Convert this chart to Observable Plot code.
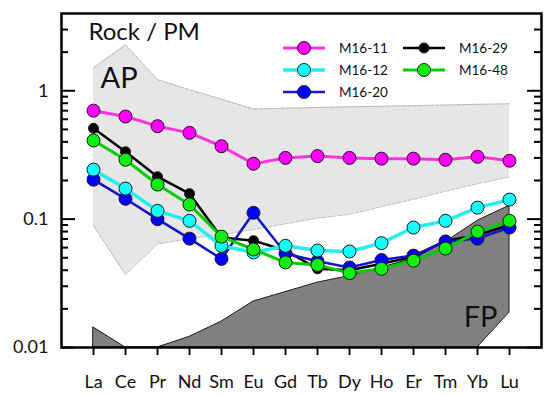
<!DOCTYPE html>
<html>
<head>
<meta charset="utf-8">
<script src="https://cdn.jsdelivr.net/npm/d3@7"></script>
<script src="https://cdn.jsdelivr.net/npm/@observablehq/plot@0.6"></script>
<style>
  html, body { margin: 0; padding: 0; background: #fff; }
  #wrap { position: relative; width: 550px; height: 395px; font-family: Lato, "Open Sans", sans-serif; }
  #legend { position: absolute; left: 283px; top: 37px; display: grid; grid-template-rows: repeat(3, 22px); grid-auto-flow: column; grid-auto-columns: 120px; }
  .item { display: flex; align-items: center; font-size: 13.5px; color: #111; }
  .item svg { margin-right: 14px; flex: none; }
</style>
</head>
<body>
<div id="wrap"><div id="legend"></div></div>
<script>
// Rare earth elements (x categories)
const elements = ["La","Ce","Pr","Nd","Sm","Eu","Gd","Tb","Dy","Ho","Er","Tm","Yb","Lu"];

// Sample series (Rock / primitive mantle)
const m1611 = [0.70,0.63,0.53,0.47,0.37,0.27,0.30,0.31,0.30,0.296,0.296,0.29,0.306,0.285];
const m1612 = [0.243,0.173,0.116,0.097,0.062,0.055,0.062,0.057,0.056,0.065,0.086,0.097,0.123,0.142];
const m1620 = [0.203,0.144,0.100,0.0705,0.049,0.112,0.054,0.047,0.042,0.048,0.052,0.067,0.0705,0.086];
const m1629 = [0.51,0.335,0.214,0.158,0.072,0.068,0.057,0.041,0.040,0.045,0.051,0.068,0.075,0.090];
const m1648 = [0.41,0.29,0.186,0.13,0.073,0.058,0.046,0.044,0.038,0.041,0.0475,0.059,0.080,0.097];

// Field envelopes
const apUpper = [1.51,2.28,1.22,1.02,0.86,0.72,0.732,0.74,0.75,0.758,0.766,0.774,0.784,0.792];
const apLower = [0.089,0.037,0.064,0.0705,0.076,0.083,0.092,0.102,0.109,0.125,0.143,0.165,0.189,0.214];
const fpUpper = [0.0143,0.01,0.01,0.0121,0.0159,0.0228,0.027,0.032,0.036,0.042,0.049,0.066,0.097,0.127];
const fpLower = [0.01,0.01,0.01,0.01,0.01,0.01,0.01,0.01,0.01,0.01,0.01,0.01,0.01,0.0187];

// Axis tick values
const majorTicks = [0.01, 0.1, 1];
const minorTicks = [0.02,0.03,0.04,0.05,0.06,0.07,0.08,0.09,0.2,0.3,0.4,0.5,0.6,0.7,0.8,0.9,2,3];

// Series styling (draw order bottom to top)
const series = [
  {name: "M16-29", values: m1629, line: "#000000", fill: "#000000", r: 5,   w: 2.5},
  {name: "M16-20", values: m1620, line: "#1414c8", fill: "#0000ff", r: 6.5, w: 2.5},
  {name: "M16-12", values: m1612, line: "#22eeee", fill: "#11ffff", r: 6.5, w: 3.5},
  {name: "M16-48", values: m1648, line: "#00cc00", fill: "#11ee11", r: 6.5, w: 3},
  {name: "M16-11", values: m1611, line: "#ff33dd", fill: "#ff00ff", r: 6.5, w: 3}
];
const legendOrder = ["M16-11","M16-12","M16-20","M16-29","M16-48"];

const W = 550, H = 395, ML = 61, MR = 9, MT = 13, MB = 48;
const frameW = W - ML - MR;

const apRows = elements.map((e, i) => ({el: e, lo: apLower[i], hi: apUpper[i]}));
const fpRows = elements.map((e, i) => ({el: e, lo: fpLower[i], hi: fpUpper[i]}));

const seriesMarks = series.flatMap(s => {
  const rows = elements.map((e, i) => ({el: e, v: s.values[i]}));
  return [
    Plot.line(rows, {x: "el", y: "v", stroke: s.line, strokeWidth: s.w}),
    Plot.dot(rows, {x: "el", y: "v", r: s.r, fill: s.fill, stroke: "#1a1a1a", strokeWidth: 1})
  ];
});

const chart = Plot.plot({
  width: W, height: H,
  marginLeft: ML, marginRight: MR, marginTop: MT, marginBottom: MB,
  style: {fontFamily: "Lato, 'Open Sans', sans-serif", fontSize: "18px", background: "white", color: "#111"},
  x: {type: "point", domain: elements, padding: 1, label: null},
  y: {type: "log", domain: [0.01, 4], label: null},
  marks: [
    Plot.areaY(apRows, {x: "el", y1: "lo", y2: "hi", fill: "#e6e6e6"}),
    Plot.line(apRows, {x: "el", y: "hi", stroke: "#a8a8a8", strokeWidth: 0.8, strokeDasharray: "4,1.5"}),
    Plot.line(apRows, {x: "el", y: "lo", stroke: "#a8a8a8", strokeWidth: 0.8, strokeDasharray: "4,1.5"}),
    Plot.areaY(fpRows, {x: "el", y1: "lo", y2: "hi", fill: "#808080", stroke: "#1a1a1a", strokeWidth: 1}),
    ...seriesMarks,
    Plot.tickY(majorTicks, {y: d => d, insetRight: frameW - 14, stroke: "black", strokeWidth: 2}),
    Plot.tickY(minorTicks, {y: d => d, insetRight: frameW - 7, stroke: "black", strokeWidth: 2}),
    Plot.tickY(majorTicks, {y: d => d, insetLeft: frameW - 14, stroke: "black", strokeWidth: 2}),
    Plot.tickY(minorTicks, {y: d => d, insetLeft: frameW - 7, stroke: "black", strokeWidth: 2}),
    Plot.axisY({ticks: majorTicks, tickSize: 0, tickPadding: 13, tickFormat: d => String(d), fontSize: 18, label: null}),
    Plot.axisX({tickSize: 8, tickPadding: 20, strokeWidth: 2, fontSize: 18, label: null}),
    Plot.frame({stroke: "black", strokeWidth: 2.5}),
    Plot.text(["Rock / PM"], {frameAnchor: "top-left", dx: 27, dy: 19, textAnchor: "start", lineAnchor: "middle", fontSize: 24, fill: "#111"}),
    Plot.text(["AP"], {frameAnchor: "top-left", dx: 39, dy: 65, textAnchor: "start", lineAnchor: "middle", fontSize: 29, fill: "#111"}),
    Plot.text(["FP"], {frameAnchor: "bottom-right", dx: -44, dy: -30, textAnchor: "end", lineAnchor: "middle", fontSize: 29, fill: "#111"})
  ]
});
document.getElementById("wrap").prepend(chart);

// Legend
const legend = document.getElementById("legend");
for (const name of legendOrder) {
  const s = series.find(d => d.name === name);
  const item = document.createElement("div");
  item.className = "item";
  const ns = "http://www.w3.org/2000/svg";
  const svg = document.createElementNS(ns, "svg");
  svg.setAttribute("width", 42); svg.setAttribute("height", 22);
  const ln = document.createElementNS(ns, "line");
  ln.setAttribute("x1", 0); ln.setAttribute("x2", 42); ln.setAttribute("y1", 11); ln.setAttribute("y2", 11);
  ln.setAttribute("stroke", s.line); ln.setAttribute("stroke-width", s.w);
  const c = document.createElementNS(ns, "circle");
  c.setAttribute("cx", 21); c.setAttribute("cy", 11); c.setAttribute("r", s.r);
  c.setAttribute("fill", s.fill); c.setAttribute("stroke", "#1a1a1a"); c.setAttribute("stroke-width", 1);
  svg.append(ln, c);
  const t = document.createElement("span");
  t.textContent = name;
  item.append(svg, t);
  legend.append(item);
}
</script>
</body>
</html>
